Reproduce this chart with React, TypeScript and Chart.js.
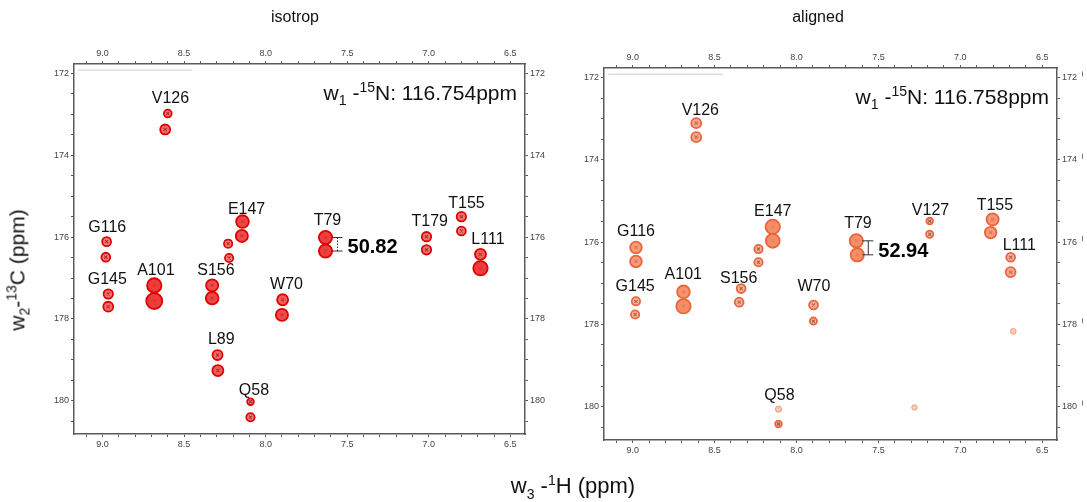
import React, { useEffect, useRef } from "react";
import { Chart, registerables } from "chart.js";
Chart.register(...registerables);

// ---------- shared axis ranges (ppm) ----------
const H_MIN = 6.41;
const H_MAX = 9.175;
const C_MIN = 171.77;
const C_MAX = 180.81;
const H_TICK_LABELS = ["9.0", "8.5", "8.0", "7.5", "7.0", "6.5"];
const C_TICK_LABELS = ["172", "174", "176", "178", "180"];

// ---------- isotrop panel ----------
const isoPeakH = [8.600, 8.616, 8.975, 8.980, 8.965, 8.965, 8.683, 8.683, 8.328, 8.328, 8.142, 8.146, 8.230, 8.224, 7.896, 7.900, 7.633, 7.633, 7.014, 7.014, 6.800, 6.800, 6.683, 6.683, 8.295, 8.293, 8.093, 8.093];
const isoPeakC = [172.98, 173.37, 176.11, 176.49, 177.39, 177.70, 177.18, 177.56, 177.18, 177.49, 175.62, 175.97, 176.16, 176.51, 177.53, 177.90, 176.01, 176.34, 175.99, 176.31, 175.50, 175.85, 176.42, 176.76, 178.88, 179.26, 180.02, 180.40];
const isoPeakI = [0.25, 0.45, 0.35, 0.35, 0.4, 0.45, 0.85, 1.0, 0.65, 0.7, 0.7, 0.65, 0.3, 0.3, 0.55, 0.65, 0.75, 0.75, 0.4, 0.4, 0.4, 0.35, 0.55, 0.85, 0.45, 0.55, 0.15, 0.3];
const isoLabelText = ["V126", "G116", "G145", "A101", "S156", "E147", "W70", "T79", "T179", "T155", "L111", "L89", "Q58"];
const isoLabelH = [8.584, 8.971, 8.971, 8.673, 8.305, 8.117, 7.872, 7.621, 6.994, 6.769, 6.637, 8.272, 8.072];
const isoLabelC = [172.62, 175.76, 177.04, 176.82, 176.82, 175.32, 177.17, 175.60, 175.62, 175.17, 176.07, 178.50, 179.74];
const isoCouplingPair = [16, 17];
const isoCoupling = "50.82";
const isoNitrogen = "116.754";

// ---------- aligned panel ----------
const aliPeakH = [8.612, 8.612, 8.980, 8.980, 8.980, 8.985, 8.690, 8.690, 8.338, 8.350, 8.145, 8.145, 8.232, 8.232, 7.896, 7.897, 7.635, 7.629, 7.187, 7.187, 6.803, 6.815, 6.693, 6.693, 8.110, 8.110, 6.677, 7.280];
const aliPeakC = [173.11, 173.45, 176.13, 176.47, 177.44, 177.76, 177.21, 177.56, 177.13, 177.46, 175.63, 175.97, 176.17, 176.49, 177.53, 177.92, 175.97, 176.31, 175.49, 175.81, 175.45, 175.77, 176.37, 176.73, 180.06, 180.42, 178.17, 180.02];
const aliPeakI = [0.45, 0.45, 0.6, 0.6, 0.3, 0.3, 0.7, 0.85, 0.35, 0.35, 0.85, 0.8, 0.3, 0.3, 0.35, 0.2, 0.75, 0.75, 0.15, 0.2, 0.65, 0.6, 0.35, 0.45, 0.12, 0.15, 0.08, 0.05];
const aliLabelText = ["V126", "G116", "G145", "A101", "S156", "E147", "W70", "T79", "V127", "T155", "L111", "Q58"];
const aliLabelH = [8.587, 8.980, 8.985, 8.691, 8.353, 8.145, 7.894, 7.625, 7.182, 6.789, 6.640, 8.104];
const aliLabelC = [172.80, 175.75, 177.09, 176.79, 176.89, 175.25, 177.09, 175.55, 175.23, 175.11, 176.09, 179.73];
const aliCouplingPair = [16, 17];
const aliCoupling = "52.94";
const aliNitrogen = "116.758";

const FONT = '"Liberation Sans", Arial, sans-serif';

type PanelProps = {
  peakH: number[];
  peakC: number[];
  peakI: number[];
  labelText: string[];
  labelH: number[];
  labelC: number[];
  pair: number[];
  coupling: string;
  nitrogen: string;
  fill: [number, number, number];
  stroke: string;
  dotted: boolean;
  bars: boolean;
  width: number;
  height: number;
  box: { left: number; right: number; top: number; bottom: number };
};

function Panel(p: PanelProps) {
  const ref = useRef<HTMLCanvasElement | null>(null);
  useEffect(() => {
    if (!ref.current) return;
    const pts = p.peakH.map((h, i) => ({ x: h, y: p.peakC[i] }));
    const crossPts = pts.filter((_, i) => p.peakI[i] >= 0.15);
    const [fr, fg, fb] = p.fill;

    const hTicks = () => {
      const t: { value: number }[] = [];
      for (let k = 65; k <= 91; k++) t.push({ value: k / 10 });
      return t;
    };
    const cTicks = () => {
      const t: { value: number }[] = [];
      for (let k = 344; k <= 361; k++) t.push({ value: k / 2 });
      return t;
    };
    const hLabel = (v: number) => {
      const s = (Math.round(v * 10) / 10).toFixed(1);
      return H_TICK_LABELS.includes(s) ? s : "";
    };
    const cLabel = (v: number) => {
      const s = String(Math.round(v * 2) / 2);
      return C_TICK_LABELS.includes(s) ? s : "";
    };
    const axisCommon = {
      border: { display: true, color: "#5a5a5a", width: 1.5 },
      grid: { drawOnChartArea: false, drawTicks: true, tickLength: 3, color: "#5a5a5a", lineWidth: 1 },
    };
    const tickFont = { family: FONT, size: 9 };
    const W = p.width, H = p.height, B = p.box;
    const radius = (i: number) => 2.5 + 5.5 * p.peakI[i];

    const overlay = {
      id: "overlay",
      afterDatasetsDraw(chart: any) {
        const ctx = chart.ctx as CanvasRenderingContext2D;
        const xs = chart.scales.x, ys = chart.scales.y;
        const area = chart.chartArea;
        ctx.save();
        // faint residual line near the top border
        ctx.strokeStyle = "rgba(150,150,150,0.45)";
        ctx.lineWidth = 1;
        ctx.beginPath();
        ctx.moveTo(xs.getPixelForValue(9.15), ys.getPixelForValue(171.92));
        ctx.lineTo(xs.getPixelForValue(8.45), ys.getPixelForValue(171.92));
        ctx.stroke();

        // small bars after right-side tick labels
        if (p.bars) {
          ctx.strokeStyle = "#777";
          C_TICK_LABELS.forEach((s) => {
            const y = ys.getPixelForValue(Number(s));
            ctx.beginPath();
            ctx.moveTo(area.right + 25.5, y - 6);
            ctx.lineTo(area.right + 25.5, y - 1);
            ctx.stroke();
          });
        }

        // residue labels
        ctx.fillStyle = "#111";
        ctx.font = `16px ${FONT}`;
        ctx.textAlign = "center";
        ctx.textBaseline = "middle";
        p.labelText.forEach((t, i) => {
          ctx.fillText(t, xs.getPixelForValue(p.labelH[i]), ys.getPixelForValue(p.labelC[i]));
        });

        // coupling bracket
        const a = p.pair[0], b = p.pair[1];
        const px = xs.getPixelForValue(p.peakH[a]);
        const y1 = ys.getPixelForValue(p.peakC[a]);
        const y2 = ys.getPixelForValue(p.peakC[b]);
        const lx = px + 12;
        ctx.strokeStyle = "#333";
        ctx.lineWidth = 1;
        ctx.setLineDash(p.dotted ? [1.5, 1.5] : []);
        ctx.beginPath();
        ctx.moveTo(lx, y1);
        ctx.lineTo(lx, y2);
        ctx.stroke();
        ctx.setLineDash([]);
        ctx.beginPath();
        ctx.moveTo(lx - 6, y1);
        ctx.lineTo(lx + 5, y1);
        ctx.moveTo(lx - 6, y2);
        ctx.lineTo(lx + 5, y2);
        ctx.stroke();
        ctx.font = `bold 20px ${FONT}`;
        ctx.textAlign = "left";
        ctx.textBaseline = "alphabetic";
        ctx.fillStyle = "#000";
        ctx.fillText(p.coupling, lx + 10, (y1 + y2) / 2 + 9);

        // nitrogen plane header: w1 -15N: xxx ppm
        const parts: { t: string; size: number; dy: number }[] = [
          { t: "w", size: 21, dy: 0 },
          { t: "1", size: 14, dy: 5 },
          { t: " -", size: 21, dy: 0 },
          { t: "15", size: 14, dy: -8 },
          { t: "N: " + p.nitrogen + "ppm", size: 21, dy: 0 },
        ];
        let total = 0;
        parts.forEach((q) => {
          ctx.font = `${q.size}px ${FONT}`;
          total += ctx.measureText(q.t).width;
        });
        let x0 = area.right - 8 - total;
        const base = area.top + 36;
        ctx.fillStyle = "#111";
        parts.forEach((q) => {
          ctx.font = `${q.size}px ${FONT}`;
          ctx.fillText(q.t, x0, base + q.dy);
          x0 += ctx.measureText(q.t).width;
        });
        ctx.restore();
      },
    };

    const chart = new Chart(ref.current, {
      type: "scatter",
      data: {
        datasets: [
          {
            data: pts,
            pointStyle: "circle",
            pointRadius: (c: any) => radius(c.dataIndex),
            pointHoverRadius: (c: any) => radius(c.dataIndex),
            backgroundColor: (c: any) => `rgba(${fr},${fg},${fb},${0.4 + 0.55 * Math.min(1, p.peakI[c.dataIndex] * 1.3)})`,
            borderColor: p.stroke,
            borderWidth: (c: any) => (p.peakI[c.dataIndex] < 0.15 ? 0.5 : 1.8),
          },
          {
            data: crossPts,
            pointStyle: "crossRot",
            pointRadius: 2.2,
            borderColor: "rgba(20,20,20,0.9)",
            borderWidth: 1.1,
            backgroundColor: "rgba(0,0,0,0)",
          },
        ],
      },
      options: {
        responsive: false,
        animation: false,
        events: [],
        layout: { padding: 0 },
        plugins: { legend: { display: false }, tooltip: { enabled: false }, title: { display: false } },
        scales: {
          x: {
            type: "linear",
            position: "bottom",
            min: H_MIN,
            max: H_MAX,
            reverse: true,
            afterBuildTicks: (s: any) => { s.ticks = hTicks(); },
            afterFit: (s: any) => { s.height = H - B.bottom; },
            ticks: { callback: (v: any) => hLabel(Number(v)), autoSkip: false, maxRotation: 0, font: tickFont, color: "#444", padding: 2 },
            ...axisCommon,
          },
          x2: {
            type: "linear",
            position: "top",
            min: H_MIN,
            max: H_MAX,
            reverse: true,
            afterBuildTicks: (s: any) => { s.ticks = hTicks(); },
            afterFit: (s: any) => { s.height = B.top; },
            ticks: { callback: (v: any) => hLabel(Number(v)), autoSkip: false, maxRotation: 0, font: tickFont, color: "#444", padding: 2 },
            ...axisCommon,
          },
          y: {
            type: "linear",
            position: "left",
            min: C_MIN,
            max: C_MAX,
            reverse: true,
            afterBuildTicks: (s: any) => { s.ticks = cTicks(); },
            afterFit: (s: any) => { s.width = B.left; },
            ticks: { callback: (v: any) => cLabel(Number(v)), autoSkip: false, font: tickFont, color: "#444", padding: 2 },
            ...axisCommon,
          },
          y2: {
            type: "linear",
            position: "right",
            min: C_MIN,
            max: C_MAX,
            reverse: true,
            afterBuildTicks: (s: any) => { s.ticks = cTicks(); },
            afterFit: (s: any) => { s.width = W - B.right; },
            ticks: { callback: (v: any) => cLabel(Number(v)), autoSkip: false, font: tickFont, color: "#444", padding: 2 },
            ...axisCommon,
          },
        },
      },
      plugins: [overlay],
    } as any);
    return () => chart.destroy();
  }, []);
  return <canvas ref={ref} width={p.width} height={p.height} style={{ display: "block" }} />;
}

export default function App() {
  return (
    <div style={{ position: "absolute", left: 0, top: 0, width: 1087, height: 502, background: "#fff", fontFamily: FONT, color: "#111", overflow: "hidden" }}>
      <div style={{ position: "absolute", left: 0, top: 0 }}>
        <Panel
          peakH={isoPeakH} peakC={isoPeakC} peakI={isoPeakI}
          labelText={isoLabelText} labelH={isoLabelH} labelC={isoLabelC}
          pair={isoCouplingPair} coupling={isoCoupling} nitrogen={isoNitrogen}
          fill={[235, 50, 50]} stroke="rgb(225,0,0)" dotted={true} bars={false}
          width={555} height={502}
          box={{ left: 74, right: 525, top: 64, bottom: 434 }}
        />
      </div>
      <div style={{ position: "absolute", left: 555, top: 0 }}>
        <Panel
          peakH={aliPeakH} peakC={aliPeakC} peakI={aliPeakI}
          labelText={aliLabelText} labelH={aliLabelH} labelC={aliLabelC}
          pair={aliCouplingPair} coupling={aliCoupling} nitrogen={aliNitrogen}
          fill={[244, 135, 95]} stroke="rgb(236,100,60)" dotted={false} bars={true}
          width={532} height={502}
          box={{ left: 49, right: 502, top: 68, bottom: 440 }}
        />
      </div>
      <div style={{ position: "absolute", left: 245, top: 8, width: 100, textAlign: "center", fontSize: 16 }}>isotrop</div>
      <div style={{ position: "absolute", left: 768, top: 8, width: 100, textAlign: "center", fontSize: 16 }}>aligned</div>
      <div style={{ position: "absolute", left: 18, top: 270, transform: "translate(-50%, -50%) rotate(-90deg)", whiteSpace: "nowrap", fontSize: 21 }}>
        w<sub style={{ fontSize: 14 }}>2</sub>-<sup style={{ fontSize: 14 }}>13</sup>C (ppm)
      </div>
      <div style={{ position: "absolute", left: 573, top: 487, transform: "translate(-50%, -50%)", whiteSpace: "nowrap", fontSize: 22 }}>
        w<sub style={{ fontSize: 14 }}>3</sub> -<sup style={{ fontSize: 14 }}>1</sup>H (ppm)
      </div>
    </div>
  );
}
